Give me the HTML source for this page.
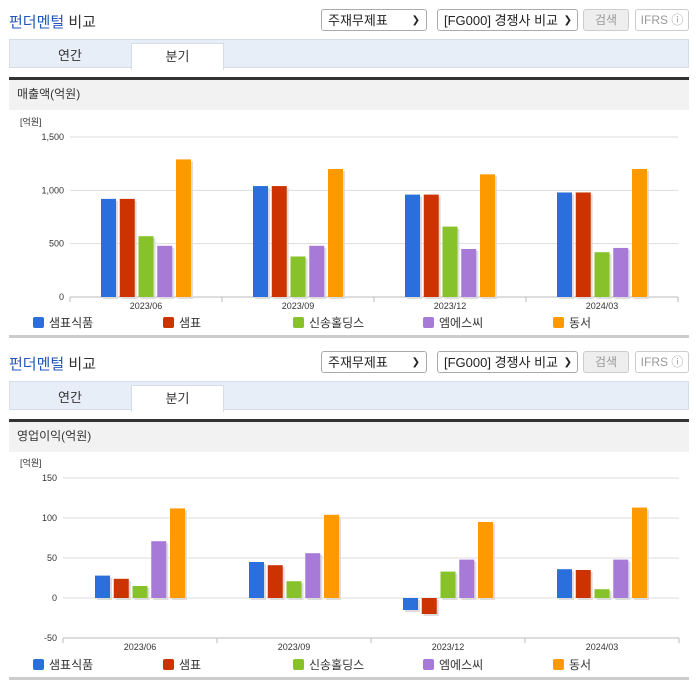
<!DOCTYPE html>
<html><head><meta charset="utf-8"><style>
body{margin:0;width:696px;height:684px;background:#fff;font-family:"Liberation Sans","Noto Sans CJK KR",sans-serif;position:relative;overflow:hidden}
.abs{position:absolute}
.title{font-size:15px;color:#333;left:9px}
.title b{font-weight:normal;color:#2255bb}
.sel{border:1px solid #aaa;border-radius:3px;height:22px;font-size:13px;line-height:22px;padding-left:6px;box-sizing:border-box;color:#222;background:#fff}
.btn{border:1px solid #ccc;border-radius:3px;height:22px;font-size:12px;line-height:20px;text-align:center;box-sizing:border-box;color:#999}
.tabs{left:9px;width:680px;height:29px;background:#e8eef7;border:1px solid #d5dde8;box-sizing:border-box}
.tab{font-size:13px;text-align:center;line-height:26px;color:#333}
.sub{left:9px;height:30px;background:#f2f2f2;border-top:3px solid #333;font-size:12px;color:#333;line-height:28px;padding-left:8px;box-sizing:content-box;width:672px}
</style></head><body>
<div id="s1"></div>
<div id="s2"></div>
<script>
const categories=["2023/06","2023/09","2023/12","2024/03"];
const seriesNames=["샘표식품","샘표","신송홀딩스","엠에스씨","동서"];
const colors=["#2a6fdb","#cc3300","#88c22a","#a77ad8","#ff9900"];
const revenue1=[920,1040,960,980];
const revenue2=[920,1040,960,980];
const revenue3=[570,380,660,420];
const revenue4=[480,480,450,460];
const revenue5=[1290,1200,1150,1200];
const op1=[28,45,-15,36];
const op2=[24,41,-20,35];
const op3=[15,21,33,11];
const op4=[71,56,48,48];
const op5=[112,104,95,113];
const revTicks=[0,500,1000,1500];
const revTickLabels=["0","500","1,000","1,500"];
const opTicks=[-50,0,50,100,150];
const opTickLabels=["-50","0","50","100","150"];
const NS="http://www.w3.org/2000/svg";
function mk(tag,attrs,parent){const e=document.createElementNS(NS,tag);for(const k in attrs)e.setAttribute(k,attrs[k]);parent.appendChild(e);return e;}
function section(container,top,subtitle,series,ticks,tickLabels,ymin,ymax,plotTop,plotBottom,x0,x1){
  const html=`
  <div class="abs title" style="top:${top+11}px"><b>펀더멘털</b> 비교</div>
  <div class="abs sel" style="left:321px;top:${top+9}px;width:106px">주재무제표<span style="position:absolute;right:6px;font-size:10px">&#10095;</span></div>
  <div class="abs sel" style="left:437px;top:${top+9}px;width:141px">[FG000] 경쟁사 비교<span style="position:absolute;right:5px;font-size:10px">&#10095;</span></div>
  <div class="abs btn" style="left:583px;top:${top+9}px;width:46px;background:#eee">검색</div>
  <div class="abs btn" style="left:635px;top:${top+9}px;width:54px">IFRS ⓘ</div>
  <div class="abs tabs" style="top:${top+39}px"></div>
  <div class="abs tab" style="left:10px;top:${top+43}px;width:120px">연간</div>
  <div class="abs tab" style="left:131px;top:${top+43}px;width:91px;height:26px;background:#fff;border:1px solid #d5dde8;border-bottom:none">분기</div>
  <div class="abs sub" style="top:${top+77}px">${subtitle}</div>
  <div class="abs" style="left:9px;top:${top+335}px;width:680px;height:3px;background:#ccc"></div>`;
  container.innerHTML=html;
  const svg=mk("svg",{width:696,height:684,style:"position:absolute;left:0;top:0"},container);
  
  
  const y=v=>plotBottom-(v-ymin)/(ymax-ymin)*(plotBottom-plotTop);
  const gw=(x1-x0)/categories.length;
  const u=mk("text",{x:20,y:plotTop-12,"font-size":9,fill:"#333"},svg);u.textContent="[억원]";
  ticks.forEach((t,i)=>{
    const l=mk("line",{x1:x0,x2:x1,y1:y(t),y2:y(t),stroke:i==0?"#bbb":"#ddd"},svg);
    
    const tx=mk("text",{x:x0-6,y:y(t)+3,"font-size":9,fill:"#333","text-anchor":"end"},svg);
    
    tx.textContent=tickLabels[i];
  });
  for(let i=0;i<=categories.length;i++){mk("line",{x1:x0+i*gw,x2:x0+i*gw,y1:plotBottom,y2:plotBottom+5,stroke:"#bbb"},svg);}
  const y0=y(Math.max(0,ymin));
  categories.forEach((c,ci)=>{
    const cx=x0+gw*(ci+0.5);
    series.forEach((s,si)=>{
      const v=s[ci];const bx=cx+(si-2)*18.75-7.5;
      const top1=Math.min(y(v),y0),h=Math.abs(y(v)-y0);
      mk("rect",{x:bx+2,y:top1+2,width:15,height:h,fill:"#ddd"},svg);
      const r=mk("rect",{x:bx,y:top1,width:15,height:h,fill:colors[si]},svg);
      
      
    });
    const t=mk("text",{x:cx,y:plotBottom+12,"font-size":9,fill:"#333","text-anchor":"middle"},svg);
    
    t.textContent=c;
  });
  seriesNames.forEach((n,i)=>{
    const lx=33+i*130,ly=top+323;
    const r=mk("rect",{x:lx,y:ly-6,width:11,height:11,rx:2,fill:colors[i]},svg);
    
    const t=mk("text",{x:lx+16,y:ly+4,"font-size":12,fill:"#333"},svg);
    
    
    t.textContent=n;
  });
}
section(document.getElementById('s1'),0,"매출액(억원)",[revenue1,revenue2,revenue3,revenue4,revenue5],revTicks,revTickLabels,0,1500,137,297,70,678);
section(document.getElementById('s2'),342,"영업이익(억원)",[op1,op2,op3,op4,op5],opTicks,opTickLabels,-50,150,478,638,63,679);
</script>
</body></html>
